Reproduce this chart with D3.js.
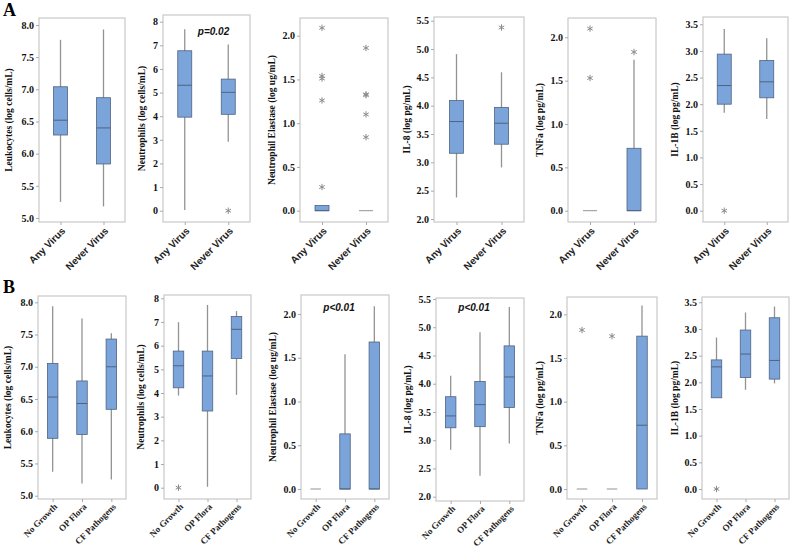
<!DOCTYPE html>
<html>
<head>
<meta charset="utf-8">
<script src="https://cdn.jsdelivr.net/npm/d3@7"></script>
<style>
  body { margin: 0; background: #fff; }
  .ylab { font-family: "Liberation Serif", serif; font-weight: bold; font-size: 9.5px; fill: #111; }
  .tick text { font-family: "Liberation Serif", serif; font-weight: bold; font-size: 10px; fill: #111; }
  .pval { font-family: "Liberation Sans", Arial, sans-serif; font-weight: bold; font-style: italic; font-size: 10px; fill: #111; }
</style>
</head>
<body>
<div id="container"></div>
<script>
// categories
var groupsA = ["Any Virus", "Never Virus"],
    groupsB = ["No Growth", "OP Flora", "CF Pathogens"];

// box stats per group: [low whisker, Q1, median, Q3, high whisker]
var leukA = [[5.25, 6.29, 6.52, 7.04, 7.77], [5.18, 5.84, 6.40, 6.87, 7.93]];
var neutA = [[0.03, 3.96, 5.31, 6.77, 7.68], [2.92, 4.08, 5.01, 5.57, 7.04]];
var elasA = [[0, 0, 0, 0.06, 0.06], [0, 0, 0, 0, 0]];
var il8A  = [[2.38, 3.16, 3.72, 4.09, 4.91], [2.91, 3.32, 3.69, 3.97, 4.59]];
var tnfA  = [[0, 0, 0, 0, 0], [0, 0, 0, 0.72, 1.74]];
var il1bA = [[1.84, 2.00, 2.35, 2.94, 3.41], [1.72, 2.12, 2.42, 2.82, 3.24]];

var leukB = [[5.37, 5.89, 6.53, 7.05, 7.94], [5.19, 5.95, 6.43, 6.78, 7.75], [5.25, 6.34, 7.00, 7.43, 7.52]];
var neutB = [[3.89, 4.22, 5.15, 5.77, 6.99], [0.04, 3.24, 4.72, 5.77, 7.72], [3.92, 5.46, 6.69, 7.23, 7.46]];
var elasB = [[0, 0, 0, 0, 0], [0, 0, 0, 0.63, 1.54], [0, 0, 0, 1.68, 2.09]];
var il8B  = [[2.83, 3.22, 3.43, 3.77, 4.14], [2.37, 3.24, 3.63, 4.04, 4.91], [2.94, 3.58, 4.12, 4.67, 5.36]];
var tnfB  = [[0, 0, 0, 0, 0], [0, 0, 0, 0, 0], [0, 0, 0.73, 1.75, 2.10]];
var il1bB = [[1.71, 1.71, 2.29, 2.42, 2.84], [1.86, 2.09, 2.53, 2.98, 3.31], [1.98, 2.06, 2.41, 3.21, 3.42]];

// outliers (asterisks) per group
var neutA_out = [[], [0]];
var elasA_out = [[2.09, 1.54, 1.51, 1.26, 0.27], [1.86, 1.33, 1.32, 1.10, 0.84]];
var il8A_out  = [[], [5.38]];
var tnfA_out  = [[2.10, 1.53], [1.83]];
var il1bA_out = [[0], []];
var neutB_out = [[0], [], []];
var tnfB_out  = [[1.82], [1.75], []];
var il1bB_out = [[0], [], []];

// tick labels
var leukTicks = [5.0, 5.5, 6.0, 6.5, 7.0, 7.5, 8.0];
var neutTicks = [0, 1, 2, 3, 4, 5, 6, 7, 8];
var elasTicks = [0.0, 0.5, 1.0, 1.5, 2.0];
var il8Ticks  = [2.0, 2.5, 3.0, 3.5, 4.0, 4.5, 5.0, 5.5];
var tnfTicks  = [0.0, 0.5, 1.0, 1.5, 2.0];
var il1bTicks = [0.0, 0.5, 1.0, 1.5, 2.0, 2.5, 3.0, 3.5];

var yLabels = ["Leukocytes (log cells/mL)", "Neutrophils (log cells/mL)", "Neutrophil Elastase (log ug/mL)",
               "IL-8 (log pg/mL)", "TNFa (log pg/mL)", "IL-1B (log pg/mL)"];

var svg = d3.select("div#container").append("svg")
    .attr("width", 792)
    .attr("height", 548);

// panel layout: frame x range, frame y range, pixel position of lowest / highest tick
var panels = [
  {groups: groupsA, stats: leukA, out: [[], []], ticks: leukTicks, fmt: ".1f", lab: 0, x: [39, 125], y: [18, 222], ty: [218, 25], lx: 30.5},
  {groups: groupsA, stats: neutA, out: neutA_out, ticks: neutTicks, fmt: "d", lab: 1, x: [163, 250], y: [15, 222], ty: [210.7, 21.7], lx: 21.5, p: "p=0.02", py: 35},
  {groups: groupsA, stats: elasA, out: elasA_out, ticks: elasTicks, fmt: ".1f", lab: 2, x: [300, 388], y: [18, 222], ty: [210.7, 35.7], lx: 28},
  {groups: groupsA, stats: il8A, out: il8A_out, ticks: il8Ticks, fmt: ".1f", lab: 3, x: [434, 524], y: [17, 222], ty: [219, 20.7], lx: 27.5},
  {groups: groupsA, stats: tnfA, out: tnfA_out, ticks: tnfTicks, fmt: ".1f", lab: 4, x: [568, 656], y: [18, 222], ty: [210.7, 37.3], lx: 28},
  {groups: groupsA, stats: il1bA, out: il1bA_out, ticks: il1bTicks, fmt: ".1f", lab: 5, x: [703, 788], y: [17, 222], ty: [210.7, 24.3], lx: 28},
  {groups: groupsB, stats: leukB, out: [[], [], []], ticks: leukTicks, fmt: ".1f", lab: 0, x: [38, 126], y: [296, 499], ty: [495.7, 302.3], lx: 30},
  {groups: groupsB, stats: neutB, out: neutB_out, ticks: neutTicks, fmt: "d", lab: 1, x: [164, 251], y: [295, 499], ty: [487.7, 298.3], lx: 23},
  {groups: groupsB, stats: elasB, out: [[], [], []], ticks: elasTicks, fmt: ".1f", lab: 2, x: [301, 389], y: [295, 499], ty: [489, 314], lx: 28, p: "p<0.01", py: 311},
  {groups: groupsB, stats: il8B, out: [[], [], []], ticks: il8Ticks, fmt: ".1f", lab: 3, x: [436, 524], y: [298, 501], ty: [496.7, 299], lx: 28, p: "p<0.01", py: 311},
  {groups: groupsB, stats: tnfB, out: tnfB_out, ticks: tnfTicks, fmt: ".1f", lab: 4, x: [567, 657], y: [297, 499], ty: [489, 314.3], lx: 27},
  {groups: groupsB, stats: il1bB, out: il1bB_out, ticks: il1bTicks, fmt: ".1f", lab: 5, x: [702, 789], y: [297, 499], ty: [489, 302.3], lx: 27}
];

var boxFill = "#7ba4da", boxEdge = "#4f6382", whisk = "#939393", frameCol = "#c9c9c9";
var star = d3.symbol().type(d3.symbolAsterisk).size(28);

panels.forEach(function(p) {
  var g = svg.append("g");
  var x = d3.scalePoint().domain(p.groups).range(p.x).padding(0.5);
  var y = d3.scaleLinear()
      .domain([p.ticks[0], p.ticks[p.ticks.length - 1]])
      .range(p.ty);
  var two = p.groups.length == 2;
  var bw = two ? 14 : 10.5;

  // frame
  g.append("rect")
    .attr("x", p.x[0]).attr("y", p.y[0])
    .attr("width", p.x[1] - p.x[0]).attr("height", p.y[1] - p.y[0])
    .attr("fill", "none").attr("stroke", frameCol).attr("stroke-width", 1.2);

  // y axis
  var yAxis = g.append("g")
    .attr("transform", "translate(" + p.x[0] + ",0)")
    .call(d3.axisLeft(y).tickValues(p.ticks).tickFormat(d3.format(p.fmt)).tickSize(3).tickPadding(2));
  yAxis.select(".domain").remove();
  yAxis.selectAll(".tick line").attr("stroke", "#aaa");

  // x axis ticks + rotated labels
  var xAxis = g.append("g")
    .attr("transform", "translate(0," + p.y[1] + ")")
    .call(d3.axisBottom(x).tickSize(3).tickFormat(""));
  xAxis.select(".domain").remove();
  xAxis.selectAll(".tick line").attr("stroke", "#aaa");

  g.selectAll("text.xlab")
    .data(p.groups)
    .enter().append("text")
      .attr("class", "xlab")
      .attr("transform", function(d) { return "translate(" + (x(d) + 3) + "," + (p.y[1] + (two ? 7 : 6)) + ") rotate(-45)"; })
      .attr("text-anchor", "end")
      .attr("dy", "0.35em")
      .style("font-family", two ? "'Liberation Sans', Arial, sans-serif" : "'Liberation Serif', serif")
      .style("font-weight", "bold")
      .style("font-size", two ? "10px" : "9px")
      .style("fill", "#222")
      .text(function(d) { return d; });

  // y label
  g.append("text")
    .attr("class", "ylab")
    .attr("transform", "translate(" + (p.x[0] - p.lx) + "," + ((p.y[0] + p.y[1]) / 2) + ") rotate(-90)")
    .attr("text-anchor", "middle")
    .attr("dy", "0.35em")
    .text(yLabels[p.lab]);

  // boxes
  var boxes = g.selectAll("g.box")
    .data(p.stats.map(function(s, i) { return {s: s, name: p.groups[i], out: p.out[i]}; }))
    .enter().append("g").attr("class", "box");

  boxes.append("line")
    .attr("x1", function(d) { return x(d.name); })
    .attr("x2", function(d) { return x(d.name); })
    .attr("y1", function(d) { return y(d.s[0]); })
    .attr("y2", function(d) { return y(d.s[4]); })
    .attr("stroke", whisk).attr("stroke-width", 1.3);

  boxes.filter(function(d) { return d.s[3] > d.s[1]; })
    .append("rect")
      .attr("x", function(d) { return x(d.name) - bw / 2; })
      .attr("width", bw)
      .attr("y", function(d) { return y(d.s[3]); })
      .attr("height", function(d) { return y(d.s[1]) - y(d.s[3]); })
      .attr("fill", boxFill).attr("stroke", boxEdge).attr("stroke-width", 0.8);

  boxes.append("line")
    .attr("x1", function(d) { return x(d.name) - bw / 2; })
    .attr("x2", function(d) { return x(d.name) + bw / 2; })
    .attr("y1", function(d) { return y(d.s[2]); })
    .attr("y2", function(d) { return y(d.s[2]); })
    .attr("stroke", function(d) { return d.s[3] > d.s[1] ? boxEdge : whisk; })
    .attr("stroke-width", 1);

  // outliers
  boxes.selectAll("path.out")
    .data(function(d) { return d.out.map(function(v) { return {v: v, name: d.name}; }); })
    .enter().append("path")
      .attr("class", "out")
      .attr("d", star)
      .attr("transform", function(d) { return "translate(" + x(d.name) + "," + y(d.v) + ")"; })
      .attr("fill", "none").attr("stroke", "#8a8a8a").attr("stroke-width", 1);

  if (p.p) {
    g.append("text")
      .attr("class", "pval")
      .attr("x", (p.x[0] + p.x[1]) / 2 + (two ? 7 : -6))
      .attr("y", p.py)
      .attr("text-anchor", "middle")
      .text(p.p);
  }
});

// panel letters
svg.append("text").attr("x", 3).attr("y", 16)
  .style("font-family", "'Liberation Serif', serif").style("font-weight", "bold").style("font-size", "18px")
  .text("A");
svg.append("text").attr("x", 3).attr("y", 293)
  .style("font-family", "'Liberation Serif', serif").style("font-weight", "bold").style("font-size", "18px")
  .text("B");
</script>
</body>
</html>
